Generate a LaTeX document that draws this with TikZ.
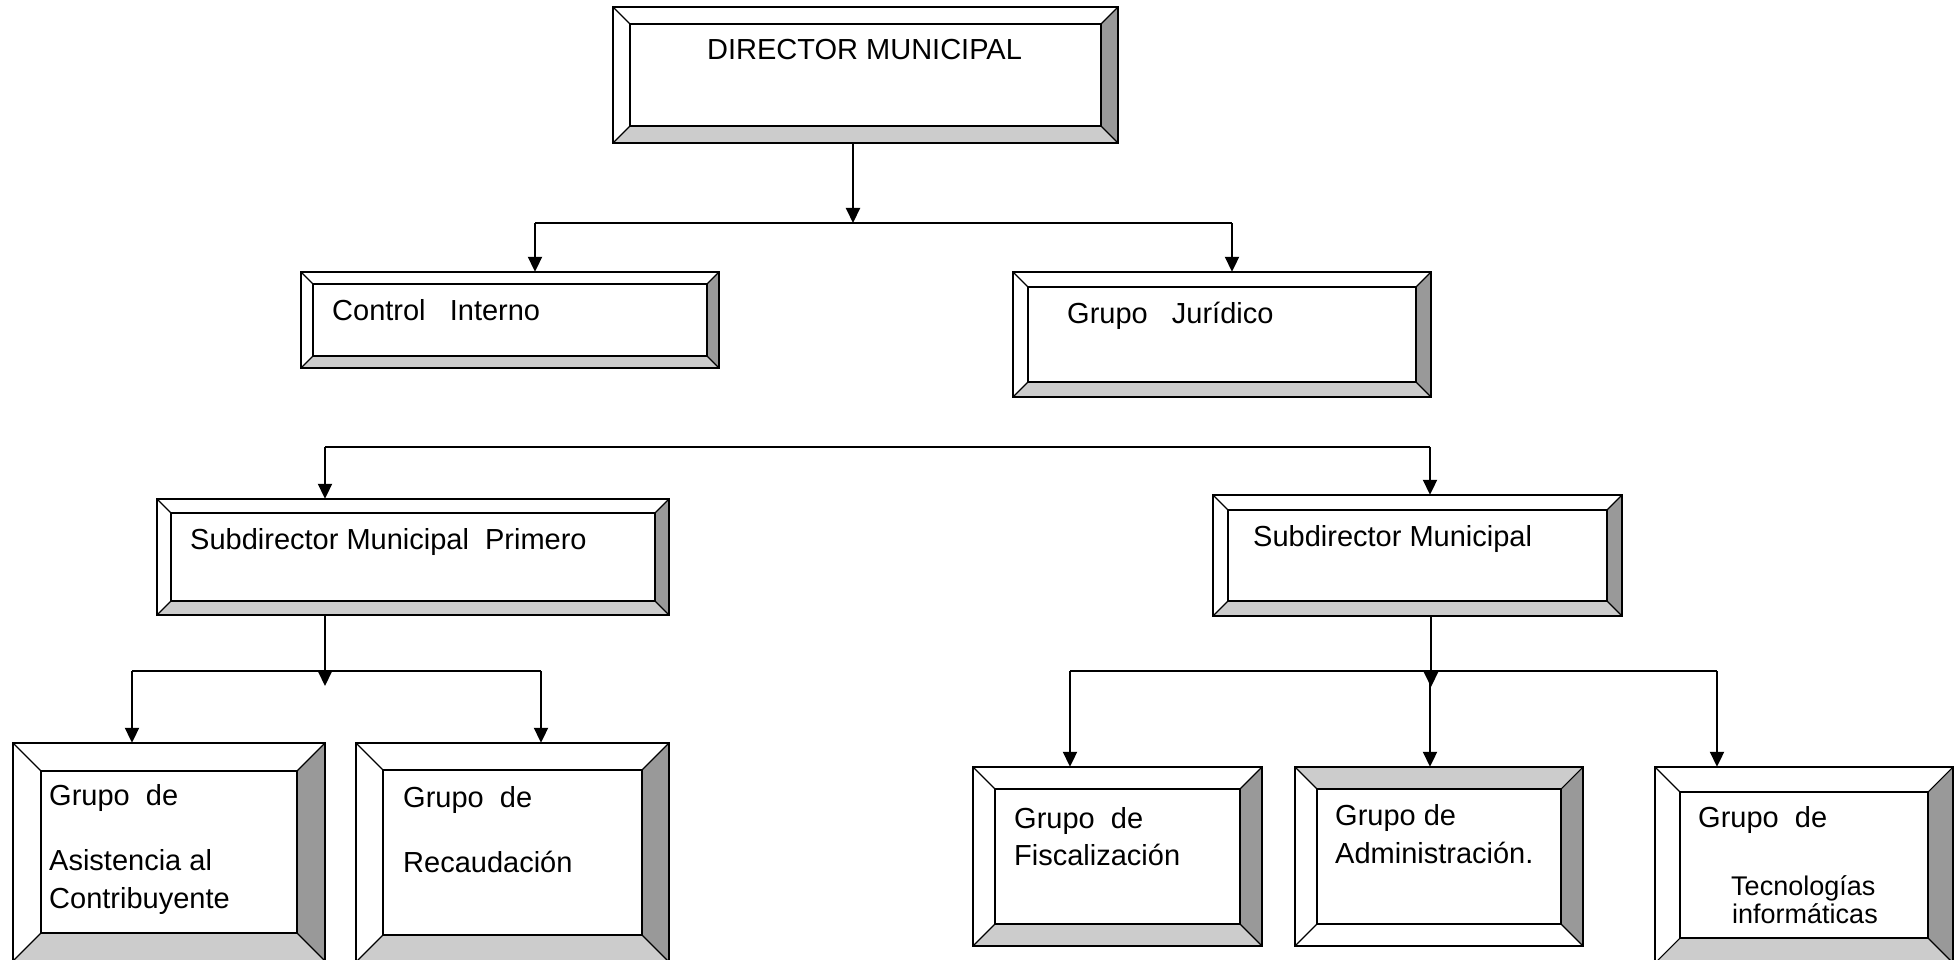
\documentclass[tikz,border=0pt]{standalone}
\usepackage{fontspec}
\setmainfont{Liberation Sans}
\usetikzlibrary{arrows.meta,fit}
\definecolor{bevlight}{HTML}{CCCCCC}
\definecolor{bevdark}{HTML}{999999}
\tikzset{
  conn/.style={line width=2pt, -{Triangle[length=15pt,width=14pt]}},
  wire/.style={line width=2pt},
  outerline/.style={line width=2.6pt},
  innerline/.style={line width=2pt},
  diagline/.style={line width=1.1pt},
  lbl/.style={anchor=base west, inner sep=0pt, font=\fontsize{29}{34}\selectfont},
  lblsmall/.style={anchor=base west, inner sep=0pt, font=\fontsize{27}{32}\selectfont},
}
% #1 name, #2 x1, #3 y1, #4 x2, #5 y2, #6 bevel, #7 top fill, #8 bottom fill
\newcommand\bevbox[8]{%
  \fill[#7] (#2,#3) -- (#4,#3) -- ({#4-#6},{#3+#6}) -- ({#2+#6},{#3+#6}) -- cycle;
  \fill[#8] (#2,#5) -- (#4,#5) -- ({#4-#6},{#5-#6}) -- ({#2+#6},{#5-#6}) -- cycle;
  \fill[bevdark] (#4,#3) -- (#4,#5) -- ({#4-#6},{#5-#6}) -- ({#4-#6},{#3+#6}) -- cycle;
  \fill[white] (#2,#3) -- (#2,#5) -- ({#2+#6},{#5-#6}) -- ({#2+#6},{#3+#6}) -- cycle;
  \fill[white] ({#2+#6},{#3+#6}) rectangle ({#4-#6},{#5-#6});
  \draw[diagline] (#2,#3) -- ({#2+#6},{#3+#6}) (#4,#3) -- ({#4-#6},{#3+#6})
                  (#2,#5) -- ({#2+#6},{#5-#6}) (#4,#5) -- ({#4-#6},{#5-#6});
  \draw[innerline] ({#2+#6},{#3+#6}) rectangle ({#4-#6},{#5-#6});
  \draw[outerline] (#2,#3) rectangle (#4,#5);
  \node[fit={(#2,#3) (#4,#5)}, inner sep=0pt] (#1) {};
}
\begin{document}
\begin{tikzpicture}[x=1pt,y=-1pt]
\useasboundingbox[fill=white] (0,0) rectangle (1959,960);

% boxes
\bevbox{dir}{613}{7}{1118}{143}{17}{white}{bevlight}
\bevbox{ctrl}{301}{272}{719}{368}{12}{white}{bevlight}
\bevbox{jur}{1013}{272}{1431}{397}{15}{white}{bevlight}
\bevbox{subA}{157}{499}{669}{615}{14}{white}{bevlight}
\bevbox{subB}{1213}{495}{1622}{616}{15}{white}{bevlight}
\bevbox{asis}{13}{743}{325}{961}{28}{white}{bevlight}
\bevbox{reca}{356}{743}{669}{962}{27}{white}{bevlight}
\bevbox{fisc}{973}{767}{1262}{946}{22}{white}{bevlight}
\bevbox{admi}{1295}{767}{1583}{946}{22}{bevlight}{white}
\bevbox{tecn}{1655}{767}{1953}{963}{25}{white}{bevlight}

% labels
\node[lbl] (tdir) at (707,60) {DIRECTOR MUNICIPAL};
\node[lbl] (tctrl) at (332,320) {Control\ \ \ Interno};
\node[lbl] (tjur) at (1067,323) {Grupo\ \ \ Jurídico};
\node[lbl] (tsubA) at (190,549) {Subdirector Municipal\ \ Primero};
\node[lbl] (tsubB) at (1253,546) {Subdirector Municipal};
\node[lbl] (tasisA) at (49,805) {Grupo\ \ de};
\node[lbl] (tasisB) at (49,870) {Asistencia al};
\node[lbl] (tasisC) at (49,908) {Contribuyente};
\node[lbl] (trecaA) at (403,807) {Grupo\ \ de};
\node[lbl] (trecaB) at (403,872) {Recaudación};
\node[lbl] (tfiscA) at (1014,828) {Grupo\ \ de};
\node[lbl] (tfiscB) at (1014,865) {Fiscalización};
\node[lbl] (tadmiA) at (1335,825) {Grupo de};
\node[lbl] (tadmiB) at (1335,863) {Administración.};
\node[lbl] (ttecnA) at (1698,827) {Grupo\ \ de};
\node[lblsmall] (ttecnB) at (1731,895) {Tecnologías};
\node[lblsmall] (ttecnC) at (1732,923) {informáticas};

% level 1 connectors
\coordinate (t0) at (853,223);
\coordinate (t1) at (535,223);
\coordinate (t2) at (1232,223);
\draw[conn] (dir.south -| t0) -- (t0);
\draw[wire] (t1) -- (t2);
\draw[conn] (t1) -- (ctrl.north -| t1);
\draw[conn] (t2) -- (jur.north -| t2);

% level 2 connectors
\coordinate (s1) at (325,447);
\coordinate (s2) at (1430,447);
\draw[wire] (s1) -- (s2);
\draw[conn] (s1) -- (subA.north -| s1);
\draw[conn] (s2) -- (subB.north -| s2);

% level 3 left
\coordinate (a0) at (325,686);
\coordinate (a1) at (132,671);
\coordinate (a2) at (541,671);
\draw[conn] (subA.south -| a0) -- (a0);
\draw[wire] (a1) -- (a2);
\draw[conn] (a1) -- (asis.north -| a1);
\draw[conn] (a2) -- (reca.north -| a2);

% level 3 right
\coordinate (b0) at (1431,687);
\coordinate (b1) at (1070,671);
\coordinate (b2) at (1717,671);
\coordinate (b3) at (1430,671);
\draw[conn] (subB.south -| b0) -- (b0);
\draw[wire] (b1) -- (b2);
\draw[conn] (b1) -- (fisc.north -| b1);
\draw[conn] (b3) -- (admi.north -| b3);
\draw[conn] (b2) -- (tecn.north -| b2);
\end{tikzpicture}
\end{document}
